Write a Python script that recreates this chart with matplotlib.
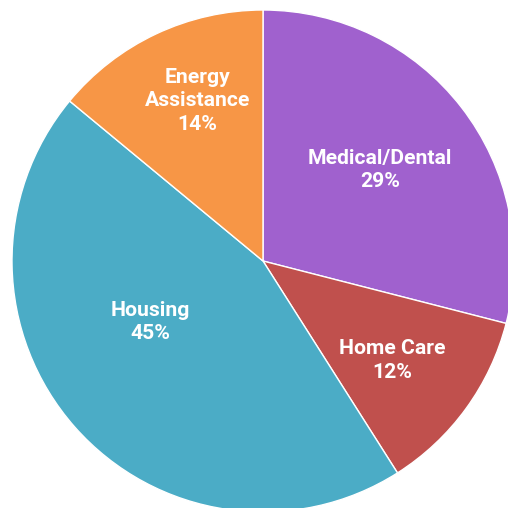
import numpy as np
import matplotlib
matplotlib.use("Agg")
import matplotlib.pyplot as plt

labels = ["Medical/Dental", "Home Care", "Housing", "Energy\nAssistance"]
shares = [29, 12, 45, 14]
colors = ["#A061CE", "#C0504D", "#4BACC6", "#F79646"]

# label placement (fraction of radius, angle nudge in degrees)
label_dist = [0.59, 0.65, 0.51, 0.69]
label_nudge = [0, -1.5, -13, -3]

plt.rcParams['font.family'] = ['Roboto', 'DejaVu Sans']

fig = plt.figure(figsize=(5.08, 5.08), dpi=100)
ax = fig.add_axes([0, 0, 1, 1])

cx, cy, r = 263, 247, 251
wedges, _ = ax.pie(shares, colors=colors, startangle=90, counterclock=False,
                   center=(cx, cy), radius=r, frame=True,
                   wedgeprops=dict(edgecolor='white', linewidth=1))
ax.set_xlim(0, 508)
ax.set_ylim(0, 508)
ax.set_aspect('equal')
ax.axis('off')

for w, lab, val, d, nud in zip(wedges, labels, shares, label_dist, label_nudge):
    ang = np.deg2rad((w.theta1 + w.theta2) / 2 + nud)
    x = cx + d * r * np.cos(ang)
    y = cy + d * r * np.sin(ang)
    ax.text(x, y, f"{lab}\n{val}%", ha='center', va='center', color='white',
            fontsize=15.2, fontweight='bold', linespacing=1.3)

fig.savefig("out.png", dpi=100)
